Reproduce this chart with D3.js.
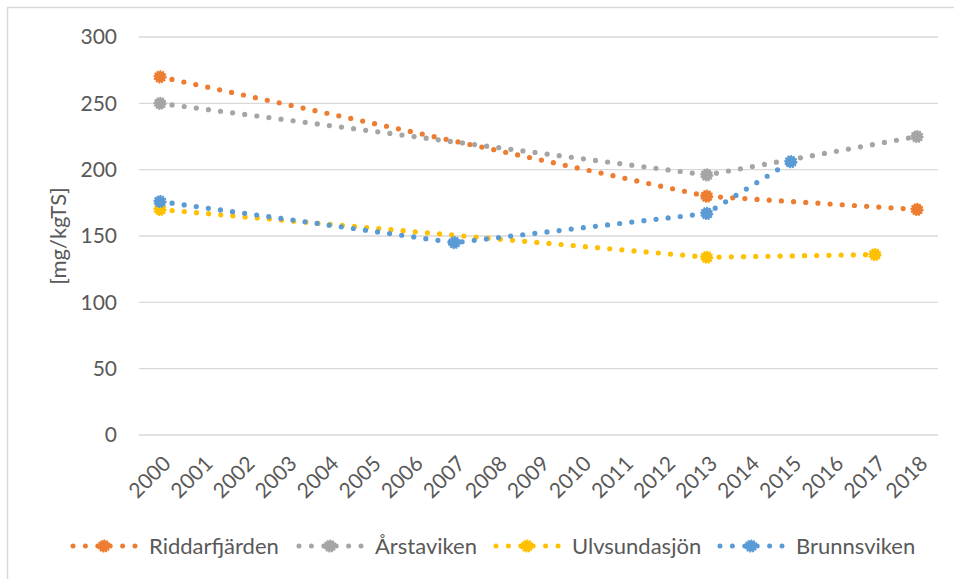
<!DOCTYPE html>
<html>
<head>
<meta charset="utf-8">
<script src="https://cdn.jsdelivr.net/npm/d3@7"></script>
<style>
  body { margin: 0; background: #fff; }
  svg text { font-family: Lato, "Open Sans", sans-serif; fill: #595959; }
</style>
</head>
<body>
<svg id="chart" width="954" height="579"></svg>
<script>
const years = ["2000","2001","2002","2003","2004","2005","2006","2007","2008","2009",
               "2010","2011","2012","2013","2014","2015","2016","2017","2018"];
const yTicks = [0, 50, 100, 150, 200, 250, 300];

// measured years only; gaps are bridged by the line
const riddarfjarden = [["2000", 270], ["2013", 180], ["2018", 170]];
const arstaviken    = [["2000", 250], ["2013", 196], ["2018", 225]];
const ulvsundasjon  = [["2000", 170], ["2013", 134], ["2017", 136]];
const brunnsviken   = [["2000", 176], ["2007", 145], ["2013", 167], ["2015", 206]];

const seriesNames  = ["Riddarfjärden", "Årstaviken", "Ulvsundasjön", "Brunnsviken"];
const seriesColors = ["#ED7D31", "#A5A5A5", "#FFC000", "#5B9BD5"];
const seriesData   = [riddarfjarden, arstaviken, ulvsundasjon, brunnsviken];

const svg = d3.select("#chart");
const margin = { left: 139, right: 16, top: 37, bottom: 144 };
const width = 954 - margin.left - margin.right;
const height = 579 - margin.top - margin.bottom;

// chart frame (right/bottom edges fall outside the picture)
svg.append("rect")
    .attr("x", 7.5).attr("y", 7.5)
    .attr("width", 960).attr("height", 600)
    .attr("fill", "none")
    .attr("stroke", "#D9D9D9")
    .attr("stroke-width", 1.5);

const g = svg.append("g").attr("transform", `translate(${margin.left},${margin.top})`);

const x = d3.scaleBand().domain(years).range([0, width]);
const y = d3.scaleLinear().domain([0, 300]).range([height, 0]);
const cx = d => x(d) + x.bandwidth() / 2;

// gridlines
g.append("g")
    .selectAll("line")
    .data(yTicks)
    .join("line")
    .attr("x1", 0).attr("x2", width)
    .attr("y1", d => y(d)).attr("y2", d => y(d))
    .attr("stroke", "#D9D9D9")
    .attr("stroke-width", 1.3);

// y axis labels
const yAxis = g.append("g")
    .call(d3.axisLeft(y).tickValues(yTicks).tickSize(0).tickPadding(22));
yAxis.select(".domain").remove();
yAxis.selectAll("text")
    .style("font-size", "21px")
    .style("font-family", "Lato, sans-serif")
    .attr("fill", "#595959");

// x axis labels
const xAxis = g.append("g")
    .attr("transform", `translate(0,${height})`)
    .call(d3.axisBottom(x).tickSize(0));
xAxis.select(".domain").remove();
xAxis.selectAll("text")
    .style("font-size", "21px")
    .style("font-family", "Lato, sans-serif")
    .attr("fill", "#595959")
    .attr("text-anchor", "end")
    .attr("dy", null)
    .attr("y", 0)
    .attr("transform", "translate(12,30) rotate(-45)");

// y title
svg.append("text")
    .attr("transform", "translate(66,236) rotate(-90)")
    .attr("text-anchor", "middle")
    .style("font-size", "22px")
    .text("[mg/kgTS]");

const line = d3.line()
    .x(d => cx(d[0]))
    .y(d => y(d[1]));

function marker(sel, color, r) {
    sel.attr("r", r)
        .attr("fill", color)
        .attr("stroke", color)
        .attr("stroke-width", 2)
        .attr("stroke-dasharray", "1.8 1");
}

seriesData.forEach((data, i) => {
    const s = g.append("g");
    s.append("path")
        .datum(data)
        .attr("d", line)
        .attr("fill", "none")
        .attr("stroke", seriesColors[i])
        .attr("stroke-width", 5.2)
        .attr("stroke-linecap", "round")
        .attr("stroke-dasharray", "0 12.2");
    s.selectAll("circle")
        .data(data)
        .join("circle")
        .attr("cx", d => cx(d[0]))
        .attr("cy", d => y(d[1]))
        .call(marker, seriesColors[i], 5.6);
});

// legend
const legendX = [104, 330, 527, 751];
const legend = svg.append("g").attr("transform", "translate(0,546)");
seriesNames.forEach((name, i) => {
    const item = legend.append("g").attr("transform", `translate(${legendX[i]},0)`);
    item.append("line")
        .attr("x1", -31).attr("x2", 31)
        .attr("stroke", seriesColors[i])
        .attr("stroke-width", 5)
        .attr("stroke-linecap", "round")
        .attr("stroke-dasharray", "0 12.4");
    item.append("circle").call(marker, seriesColors[i], 5.6);
    item.append("text")
        .attr("x", 45)
        .attr("dy", "0.35em")
        .style("font-size", "22px")
        .text(name);
});
</script>
</body>
</html>
